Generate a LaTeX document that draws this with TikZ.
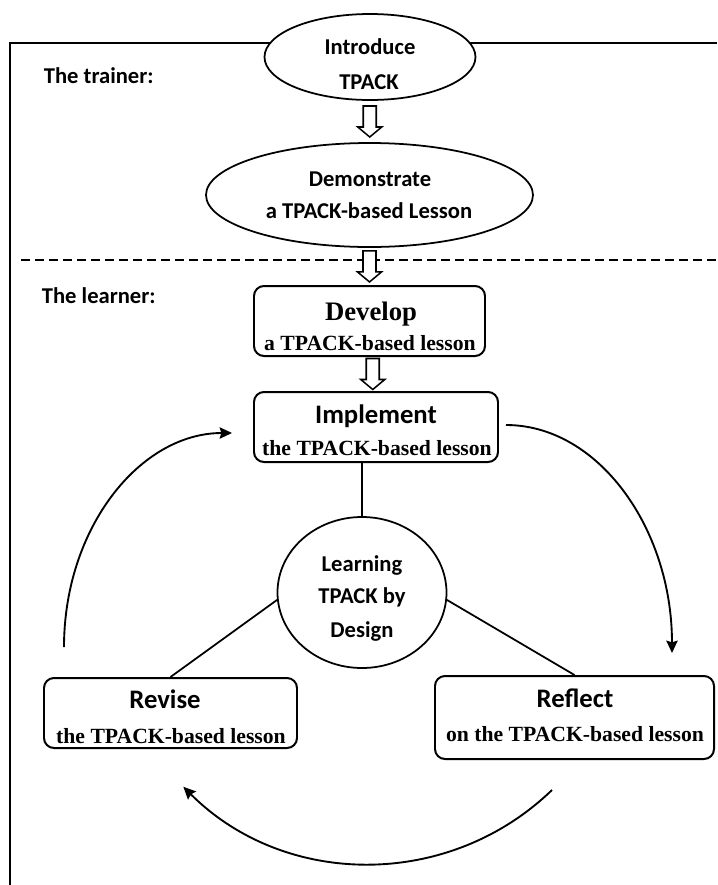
\documentclass[tikz,border=0pt]{standalone}
\usepackage{fontspec}
\setmainfont{Liberation Serif}
\newfontfamily\calib{Carlito}
\usetikzlibrary{calc,arrows.meta,shapes.geometric}
\newcommand\pxu{0.03cm}
\begin{document}
\begin{tikzpicture}[x=0.03cm,y=-0.03cm,line width=1.5pt,
  sansS/.style={font=\calib\bfseries\fontsize{19.3}{23}\selectfont},
  sansL/.style={font=\calib\bfseries\fontsize{22.8}{27}\selectfont},
  serS/.style={font=\bfseries\fontsize{18.5}{22}\selectfont},
  serL/.style={font=\bfseries\fontsize{22.8}{27}\selectfont},
  txt/.style={anchor=base,inner sep=0pt},
  oval/.style={ellipse,draw,fill=white,inner sep=0pt},
  stepbox/.style={rectangle,draw,fill=white,rounded corners=0.3cm,inner sep=0pt,line width=1.7pt},
  hollow/.style={draw,fill=white,line width=1.3pt,line join=miter},
  arcarrow/.style={line width=1.6pt,-{Stealth[length=0.37cm,width=0.34cm,inset=0.05cm]}}]
\useasboundingbox (0,0) rectangle (717,885);
% frame and separator
\draw[line width=1.8pt] (10,885) -- (10,43) -- (717,43);
\draw[line width=2.3pt,dash pattern=on 0.27cm off 0.15cm] (21,260) -- (717,260);
% trainer shapes
\node[oval,minimum width=211*\pxu,minimum height=86*\pxu] (intro) at (370,57) {};
\node[oval,minimum width=327*\pxu,minimum height=104*\pxu] (demo) at (369.5,195) {};
% learner boxes
\node[stepbox,minimum width=231*\pxu,minimum height=70*\pxu] (dev) at (369.5,321) {};
\node[stepbox,minimum width=244*\pxu,minimum height=70*\pxu] (impl) at (376,427) {};
\node[stepbox,minimum width=253*\pxu,minimum height=70*\pxu] (revise) at (170.5,713) {};
\node[stepbox,minimum width=279*\pxu,minimum height=83*\pxu] (reflect) at (574.5,717.5) {};
\node[oval,minimum width=169*\pxu,minimum height=151*\pxu] (circ) at (362,592.5) {};
% texts
\node[txt,sansS,anchor=base west] (trainer) at (43,83) {The trainer:};
\node[txt,sansS,anchor=base west] (learner) at (41,303) {The learner:};
\node[txt,sansS] (introA) at (370,54) {Introduce};
\node[txt,sansS] (introB) at (369,89) {TPACK};
\node[txt,sansS] (demoA) at (370,186) {Demonstrate};
\node[txt,sansS] (demoB) at (369,218) {a TPACK-based Lesson};
\node[txt,serL] (devA) at (371,320) {Develop};
\node[txt,serS] (devB) at (370,350) {a TPACK-based lesson};
\node[txt,sansL] (implA) at (376,423) {Implement};
\node[txt,serS] (implB) at (377,455) {the TPACK-based lesson};
\node[txt,sansL] (revA) at (165,708) {Revise};
\node[txt,serS] (revB) at (171,743) {the TPACK-based lesson};
\node[txt,sansL] (refA) at (575,707) {Reflect};
\node[txt,serS] (refB) at (575,741) {on the TPACK-based lesson};
\node[txt,sansS] (circA) at (362,571) {Learning};
\node[txt,sansS] (circB) at (362,603) {TPACK by};
\node[txt,sansS] (circC) at (362,637) {Design};
% hollow block arrows
\foreach \f/\t in {intro/demo,demo/dev,dev/impl}{
  \coordinate (m) at ($(\f.south)!0.5!(\t.north)$);
  \draw[hollow,shift={(m)}] (-6.5,-15.5) -- (6.5,-15.5) -- (6.5,5.5) -- (12,5.5)
     -- (0,15.5) -- (-12,5.5) -- (-6.5,5.5) -- cycle;
}
% connectors to the central circle
\draw (circ.north) -- (circ.north |- impl.south);
\draw (circ.185) -- (revise.north);
\draw (circ.-5) -- (reflect.north);
% cycle arrows
\coordinate (lA) at ($(revise.north west)+(21,-30)$);
\coordinate (lB) at ($(impl.west)+(-21,6)$);
\coordinate (rA) at ($(impl.east)+(7,-2)$);
\coordinate (rB) at ($(reflect.north east)+(-43,-22)$);
\coordinate (bA) at ($(reflect.south)+(-22.5,30)$);
\draw[arcarrow] (lA) .. controls +(0,-119) and +(-92,0) .. (lB);
\draw[arcarrow] (rA) .. controls +(92,0) and +(0,-125) .. (rB);
\draw[arcarrow] (bA) arc[start angle=46,end angle=135,radius=263];
\end{tikzpicture}
\end{document}
